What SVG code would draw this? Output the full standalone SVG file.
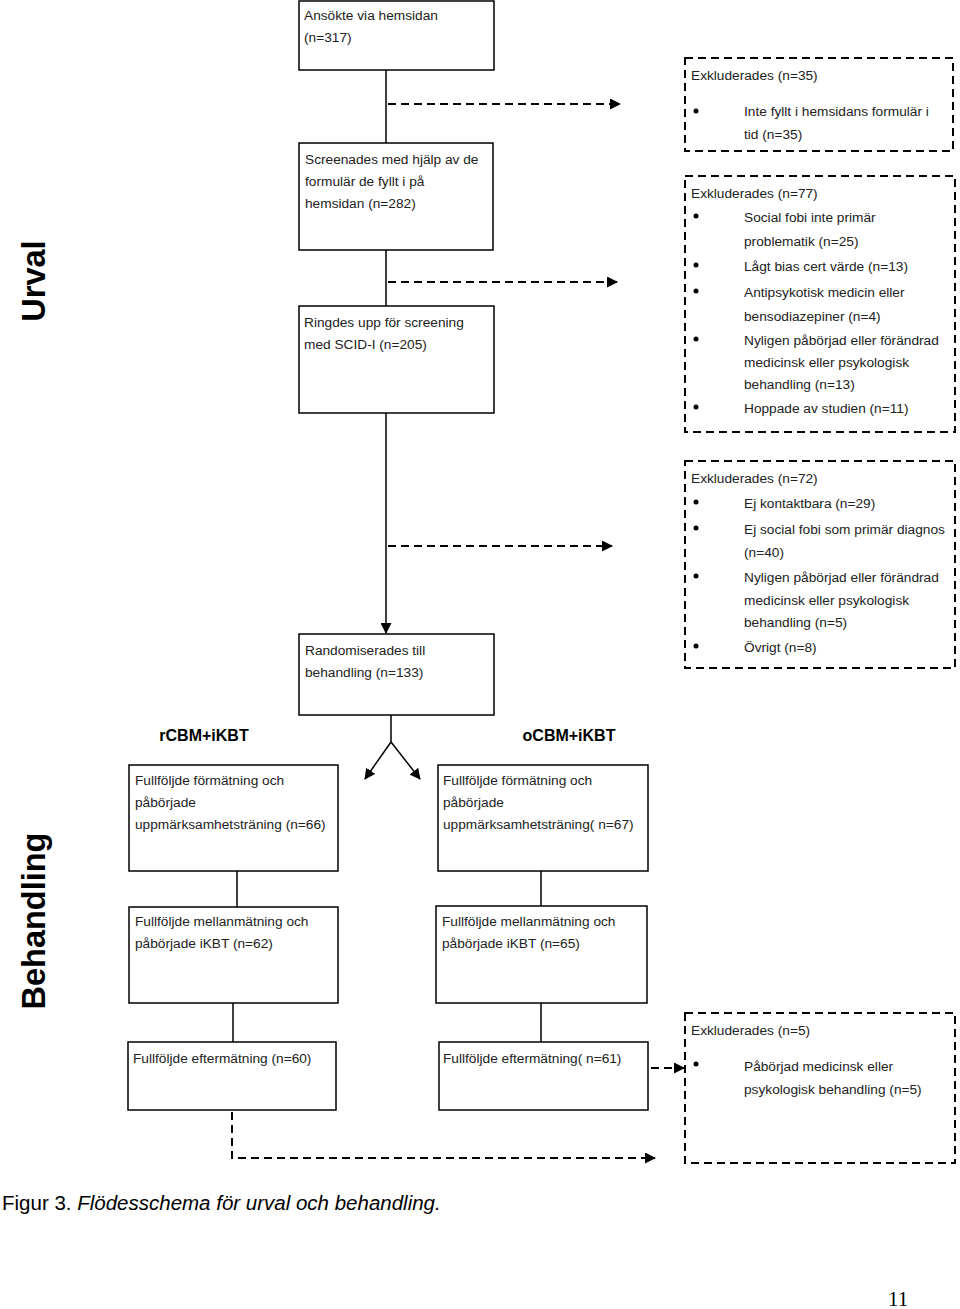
<svg xmlns="http://www.w3.org/2000/svg" width="960" height="1309" viewBox="0 0 960 1309">
<style>
.box{fill:#fff;stroke:#000;stroke-width:1.5}
.ex{fill:none;stroke:#000;stroke-width:2;stroke-dasharray:8 5}
.t{font-family:"Liberation Sans",Arial,sans-serif;font-size:13.7px;fill:#222}
.h{font-family:"Liberation Sans",Arial,sans-serif;font-size:16px;font-weight:bold;fill:#000}
.side{font-family:"Liberation Sans",Arial,sans-serif;font-size:32.5px;font-weight:bold;fill:#000}
.ln{stroke:#000;stroke-width:1.5;fill:none}
.dl{stroke:#000;stroke-width:2;fill:none;stroke-dasharray:8 5}
.bul{fill:#000}
</style>
<defs>
<marker id="ah" markerWidth="11" markerHeight="11" refX="10" refY="5.5" orient="auto" markerUnits="userSpaceOnUse">
<path d="M0,0 L11,5.5 L0,11 Z" fill="#000"/>
</marker>
</defs>
<rect width="960" height="1309" fill="#fff"/>

<text class="side" transform="translate(45,281) rotate(-90)" text-anchor="middle">Urval</text>
<text class="side" transform="translate(45,921) rotate(-90)" text-anchor="middle">Behandling</text>

<g id="connectors">
<line class="ln" x1="386" y1="70" x2="386" y2="143"/>
<line class="dl" x1="388" y1="104" x2="620" y2="104" marker-end="url(#ah)"/>
<line class="ln" x1="386" y1="250" x2="386" y2="306"/>
<line class="dl" x1="388" y1="282" x2="617" y2="282" marker-end="url(#ah)"/>
<line class="ln" x1="386" y1="413" x2="386" y2="633" marker-end="url(#ah)"/>
<line class="dl" x1="388" y1="546" x2="612" y2="546" marker-end="url(#ah)"/>
<polyline class="ln" points="391,715 391,742"/>
<line class="ln" x1="391" y1="742" x2="365" y2="779" marker-end="url(#ah)"/>
<line class="ln" x1="391" y1="742" x2="420" y2="779" marker-end="url(#ah)"/>
<line class="ln" x1="237" y1="871" x2="237" y2="907"/>
<line class="ln" x1="541" y1="871" x2="541" y2="906"/>
<line class="ln" x1="233" y1="1003" x2="233" y2="1042"/>
<line class="ln" x1="541" y1="1003" x2="541" y2="1042"/>
<line class="dl" x1="651" y1="1068" x2="684" y2="1068" marker-end="url(#ah)"/>
<polyline class="dl" points="232,1112 232,1158 655,1158" marker-end="url(#ah)"/>
</g>

<g id="n1"><rect class="box" x="299" y="1" width="195" height="69"/>
<text class="t" x="304" y="20">Ansökte via  hemsidan</text>
<text class="t" x="304" y="42">(n=317)</text></g>

<g id="n2"><rect class="box" x="299" y="143" width="194" height="107"/>
<text class="t" x="305" y="164">Screenades med hjälp av de</text>
<text class="t" x="305" y="186">formulär de fyllt i på</text>
<text class="t" x="305" y="208">hemsidan (n=282)</text></g>

<g id="n3"><rect class="box" x="299" y="306" width="195" height="107"/>
<text class="t" x="304" y="327">Ringdes upp för screening</text>
<text class="t" x="304" y="349">med SCID-I (n=205)</text></g>

<g id="n4"><rect class="box" x="299" y="634" width="195" height="81"/>
<text class="t" x="305" y="655">Randomiserades till</text>
<text class="t" x="305" y="677">behandling (n=133)</text></g>

<text class="h" x="204" y="741" text-anchor="middle">rCBM+iKBT</text>
<text class="h" x="569" y="741" text-anchor="middle">oCBM+iKBT</text>

<g id="n5"><rect class="box" x="129" y="765" width="209" height="106"/>
<text class="t" x="135" y="785">Fullföljde förmätning och</text>
<text class="t" x="135" y="807">påbörjade</text>
<text class="t" x="135" y="829">uppmärksamhetsträning (n=66)</text></g>

<g id="n6"><rect class="box" x="438" y="765" width="210" height="106"/>
<text class="t" x="443" y="785">Fullföljde förmätning och</text>
<text class="t" x="443" y="807">påbörjade</text>
<text class="t" x="443" y="829">uppmärksamhetsträning( n=67)</text></g>

<g id="n7"><rect class="box" x="129" y="907" width="209" height="96"/>
<text class="t" x="135" y="926">Fullföljde mellanmätning  och</text>
<text class="t" x="135" y="948">påbörjade iKBT (n=62)</text></g>

<g id="n8"><rect class="box" x="436" y="906" width="211" height="97"/>
<text class="t" x="442" y="926">Fullföljde mellanmätning  och</text>
<text class="t" x="442" y="948">påbörjade iKBT (n=65)</text></g>

<g id="n9"><rect class="box" x="128" y="1042" width="208" height="68"/>
<text class="t" x="133" y="1063">Fullföljde eftermätning (n=60)</text></g>

<g id="n10"><rect class="box" x="439" y="1042" width="209" height="68"/>
<text class="t" x="443" y="1063">Fullföljde eftermätning( n=61)</text></g>

<g id="e1"><rect class="ex" x="685" y="58" width="268" height="93"/>
<text class="t" x="691" y="80">Exkluderades  (n=35)</text>
<circle class="bul" cx="696" cy="111" r="2.5"/>
<text class="t" x="744" y="116">Inte fyllt i hemsidans formulär i</text>
<text class="t" x="744" y="139">tid (n=35)</text></g>

<g id="e2"><rect class="ex" x="685" y="176" width="270" height="256"/>
<text class="t" x="691" y="198">Exkluderades  (n=77)</text>
<circle class="bul" cx="696" cy="216" r="2.5"/>
<text class="t" x="744" y="222">Social fobi inte primär</text>
<text class="t" x="744" y="246">problematik (n=25)</text>
<circle class="bul" cx="696" cy="265" r="2.5"/>
<text class="t" x="744" y="271">Lågt bias cert värde (n=13)</text>
<circle class="bul" cx="696" cy="291" r="2.5"/>
<text class="t" x="744" y="297">Antipsykotisk medicin eller</text>
<text class="t" x="744" y="321">bensodiazepiner (n=4)</text>
<circle class="bul" cx="696" cy="339" r="2.5"/>
<text class="t" x="744" y="345">Nyligen påbörjad eller förändrad</text>
<text class="t" x="744" y="367">medicinsk eller psykologisk</text>
<text class="t" x="744" y="389">behandling (n=13)</text>
<circle class="bul" cx="696" cy="407" r="2.5"/>
<text class="t" x="744" y="413">Hoppade av studien (n=11)</text></g>

<g id="e3"><rect class="ex" x="685" y="461" width="270" height="207"/>
<text class="t" x="691" y="483">Exkluderades  (n=72)</text>
<circle class="bul" cx="696" cy="502" r="2.5"/>
<text class="t" x="744" y="508">Ej kontaktbara (n=29)</text>
<circle class="bul" cx="696" cy="528" r="2.5"/>
<text class="t" x="744" y="534">Ej social fobi som primär diagnos</text>
<text class="t" x="744" y="557">(n=40)</text>
<circle class="bul" cx="696" cy="576" r="2.5"/>
<text class="t" x="744" y="582">Nyligen påbörjad eller förändrad</text>
<text class="t" x="744" y="605">medicinsk eller psykologisk</text>
<text class="t" x="744" y="627">behandling (n=5)</text>
<circle class="bul" cx="696" cy="646" r="2.5"/>
<text class="t" x="744" y="652">Övrigt (n=8)</text></g>

<g id="e4"><rect class="ex" x="685" y="1013" width="270" height="150"/>
<text class="t" x="691" y="1035">Exkluderades (n=5)</text>
<circle class="bul" cx="696" cy="1064" r="2.5"/>
<text class="t" x="744" y="1071">Påbörjad medicinsk eller</text>
<text class="t" x="744" y="1094">psykologisk behandling (n=5)</text></g>

<text x="2" y="1210" font-family="Liberation Sans, Arial, sans-serif" font-size="20.5" fill="#000">Figur 3. <tspan font-style="italic">Flödesschema för urval och behandling.</tspan></text>
<text x="888" y="1306" font-family="Liberation Serif, Times New Roman, serif" font-size="21" fill="#000">11</text>
</svg>
